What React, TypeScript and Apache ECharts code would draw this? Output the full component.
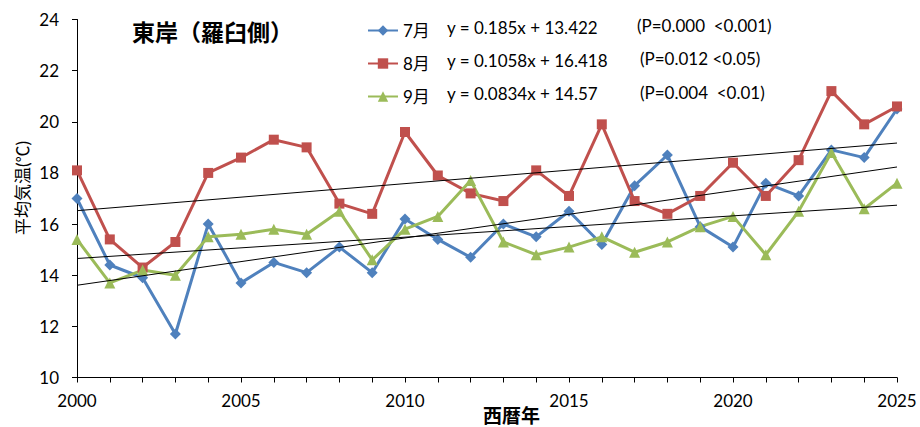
import React, { useEffect, useRef } from "react";
import * as echarts from "echarts";

const years = [2000, 2001, 2002, 2003, 2004, 2005, 2006, 2007, 2008, 2009, 2010, 2011, 2012, 2013, 2014, 2015, 2016, 2017, 2018, 2019, 2020, 2021, 2022, 2023, 2024, 2025];
const july = [17.0, 14.4, 13.9, 11.7, 16.0, 13.7, 14.5, 14.1, 15.1, 14.1, 16.2, 15.4, 14.7, 16.0, 15.5, 16.5, 15.2, 17.5, 18.7, 15.9, 15.1, 17.6, 17.1, 18.9, 18.6, 20.5];
const august = [18.1, 15.4, 14.3, 15.3, 18.0, 18.6, 19.3, 19.0, 16.8, 16.4, 19.6, 17.9, 17.2, 16.9, 18.1, 17.1, 19.9, 16.9, 16.4, 17.1, 18.4, 17.1, 18.5, 21.2, 19.9, 20.6];
const september = [15.4, 13.7, 14.2, 14.0, 15.5, 15.6, 15.8, 15.6, 16.5, 14.6, 15.8, 16.3, 17.7, 15.3, 14.8, 15.1, 15.5, 14.9, 15.3, 15.9, 16.3, 14.8, 16.5, 18.8, 16.6, 17.6];
const seriesNames = ["7月", "8月", "9月"];
const slopes = [0.185, 0.1058, 0.0834];
const intercepts = [13.422, 16.418, 14.57];
const equations = ["y = 0.185x + 13.422", "y = 0.1058x + 16.418", "y = 0.0834x + 14.57"];
const pTexts = ["(P=0.000  <0.001)", "(P=0.012 <0.05)", "(P=0.004  <0.01)"];
const title = "東岸（羅臼側）";
const xName = "西暦年";
const yName = "平均気温(℃)";

const colors = ["#4F81BD", "#C0504D", "#9BBB59"];
const symbols = ["diamond", "rect", "triangle"];
const symbolSizes = [11, 10, 11];
const FONT = "Lato, 'Noto Sans CJK JP', sans-serif";

export default function App() {
  const ref = useRef<HTMLDivElement>(null);
  useEffect(() => {
    if (!ref.current) return;
    const chart = echarts.init(ref.current, undefined, { renderer: "svg" });
    const allData = [july, august, september];
    const dataSeries = allData.map((vals, i) => ({
      name: seriesNames[i],
      type: "line",
      data: years.map((y, k) => [y, vals[k]]),
      symbol: symbols[i],
      symbolSize: symbolSizes[i],
      itemStyle: { color: colors[i] },
      lineStyle: { color: colors[i], width: 3 },
      z: 2,
    }));
    const trendSeries = slopes.map((s, i) => ({
      name: "trend" + i,
      type: "line",
      data: [
        [years[0], intercepts[i] + s * 1],
        [years[years.length - 1], intercepts[i] + s * years.length],
      ],
      symbol: "none",
      lineStyle: { color: "#000", width: 1 },
      silent: true,
      z: 3,
    }));
    const eqY = [27, 60, 93];
    const pY = [25, 58, 92];
    const pX = [637, 640, 640];
    const graphics: any[] = [
      {
        type: "text",
        x: 132,
        y: 32,
        style: { text: title, font: `bold 23px ${FONT}`, fill: "#000", verticalAlign: "middle" },
      },
      {
        type: "text",
        x: 483,
        y: 415,
        style: { text: xName, font: `bold 19px ${FONT}`, fill: "#000", verticalAlign: "middle" },
      },
      {
        type: "text",
        x: 22,
        y: 188,
        rotation: Math.PI / 2,
        style: { text: yName, font: `17px ${FONT}`, fill: "#000", align: "center", verticalAlign: "middle" },
      },
    ];
    equations.forEach((t, i) => {
      graphics.push({
        type: "text",
        x: 447,
        y: eqY[i],
        style: { text: t, font: `17px ${FONT}`, fill: "#000", verticalAlign: "middle" },
      });
      graphics.push({
        type: "text",
        x: pX[i],
        y: pY[i],
        style: { text: pTexts[i], font: `17px ${FONT}`, fill: "#000", verticalAlign: "middle" },
      });
    });
    chart.setOption({
      animation: false,
      grid: { left: 77, right: 23, top: 19.5, bottom: 49.5, containLabel: false },
      legend: {
        data: seriesNames,
        orient: "vertical",
        left: 362,
        top: 17,
        itemWidth: 30,
        itemHeight: 13,
        itemGap: 16,
        textStyle: { fontSize: 17, fontFamily: FONT, color: "#000" },
      },
      xAxis: {
        type: "value",
        min: 2000,
        max: 2025,
        interval: 5,
        axisLine: { show: true, lineStyle: { color: "#000", width: 1 } },
        axisTick: { show: true, length: 5, lineStyle: { color: "#000" } },
        minorTick: { show: true, splitNumber: 5, length: 5, lineStyle: { color: "#000" } },
        splitLine: { show: false },
        minorSplitLine: { show: false },
        axisLabel: { fontSize: 17, fontFamily: FONT, color: "#000", margin: 14, formatter: (v: number) => String(v) },
      },
      yAxis: {
        type: "value",
        min: 10,
        max: 24,
        interval: 2,
        axisLine: { show: true, lineStyle: { color: "#000", width: 1 } },
        axisTick: { show: true, length: 5, lineStyle: { color: "#000" } },
        splitLine: { show: false },
        axisLabel: { fontSize: 17, fontFamily: FONT, color: "#000", margin: 18 },
      },
      series: [...dataSeries, ...trendSeries],
      graphic: graphics,
    });
    return () => chart.dispose();
  }, []);
  return (
    <div
      ref={ref}
      style={{ position: "absolute", left: 0, top: 0, width: 920, height: 427, background: "#fff" }}
    />
  );
}
